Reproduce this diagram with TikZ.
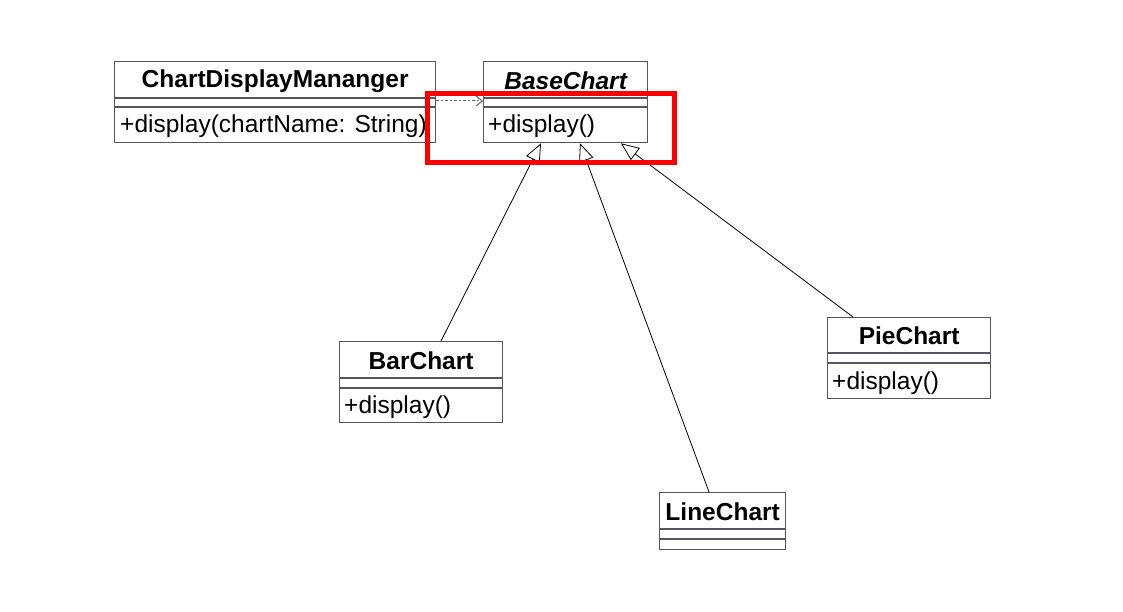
\documentclass[tikz,border=0pt]{standalone}
\usepackage{fontspec}
\setmainfont{Liberation Sans}
\usetikzlibrary{calc,arrows.meta}
\definecolor{boxc}{RGB}{85,85,95}
\definecolor{hl}{RGB}{250,0,0}
\tikzset{
  umlbox/.style={draw=boxc, line width=1.3pt, fill=white, rectangle, inner sep=0pt, anchor=north west},
  sepline/.style={draw=boxc, line width=1.3pt},
  ctitle/.style={font=\fontsize{24.5}{28}\selectfont\bfseries, inner sep=0pt},
  cmeth/.style={font=\fontsize{24.5}{28}\selectfont, inner sep=0pt, anchor=west},
  inh/.style={draw=black, line width=0.8pt, -{Triangle[open, length=18pt, width=15pt, fill=white]}},
  dep/.style={draw=gray!80!black, line width=1pt, dash pattern=on 2.5pt off 2pt, -{Straight Barb[length=6pt, width=10pt]}},
}
\begin{document}
\begin{tikzpicture}[x=1pt, y=-1pt]
\useasboundingbox (0,0) rectangle (1123,612);
\fill[white] (0,0) rectangle (1123,612);

% ChartDisplayMananger
\node[umlbox, minimum width=321pt, minimum height=81pt] (cdm) at (114,61) {};
\draw[sepline] ($(cdm.north west)+(0,37)$) -- ($(cdm.north east)+(0,37)$);
\draw[sepline] ($(cdm.north west)+(0,46)$) -- ($(cdm.north east)+(0,46)$);
\node[ctitle] (cdmT) at ($(cdm.north)+(0,20)$) {ChartDisplayMananger};
\node[cmeth] (cdmM) at ($(cdm.north west)+(6,65)$) {+display(chartName: String)};

% BaseChart
\node[umlbox, minimum width=164pt, minimum height=81pt] (base) at (483,61) {};
\draw[sepline] ($(base.north west)+(0,37)$) -- ($(base.north east)+(0,37)$);
\draw[sepline] ($(base.north west)+(0,46)$) -- ($(base.north east)+(0,46)$);
\node[ctitle, font=\fontsize{24.5}{28}\selectfont\bfseries\itshape] (baseT) at ($(base.north)+(0,20)$) {BaseChart};
\node[cmeth] (baseM) at ($(base.north west)+(5,65)$) {+display()};

% BarChart
\node[umlbox, minimum width=163pt, minimum height=81pt] (bar) at (339,341) {};
\draw[sepline] ($(bar.north west)+(0,37)$) -- ($(bar.north east)+(0,37)$);
\draw[sepline] ($(bar.north west)+(0,47)$) -- ($(bar.north east)+(0,47)$);
\node[ctitle] (barT) at ($(bar.north)+(0,20)$) {BarChart};
\node[cmeth] (barM) at ($(bar.north west)+(5,66)$) {+display()};

% PieChart
\node[umlbox, minimum width=163pt, minimum height=81pt] (pie) at (827,317) {};
\draw[sepline] ($(pie.north west)+(0,36)$) -- ($(pie.north east)+(0,36)$);
\draw[sepline] ($(pie.north west)+(0,46)$) -- ($(pie.north east)+(0,46)$);
\node[ctitle] (pieT) at ($(pie.north)+(0,19)$) {PieChart};
\node[cmeth] (pieM) at ($(pie.north west)+(5,66)$) {+display()};

% LineChart
\node[umlbox, minimum width=126pt, minimum height=57pt] (line) at (659,492) {};
\draw[sepline] ($(line.north west)+(0,37)$) -- ($(line.north east)+(0,37)$);
\draw[sepline] ($(line.north west)+(0,47)$) -- ($(line.north east)+(0,47)$);
\node[ctitle] (lineT) at ($(line.north)+(0,20)$) {LineChart};

% connector end points
\coordinate (depS) at ($(cdm.north east)+(0,40)$);
\coordinate (depE) at ($(base.north west)+(0,40)$);
\coordinate (tipBar) at ($(base.south west)+(58,0)$);
\coordinate (tipLine) at ($(base.south west)+(97,0)$);
\coordinate (tipPie) at ($(base.south west)+(138,0)$);
\coordinate (barTop) at ($(bar.north west)+(102,0)$);
\coordinate (lineTop) at ($(line.north west)+(50,0)$);
\coordinate (pieTop) at ($(pie.north west)+(26,0)$);

\draw[dep] (depS) -- (depE);
\draw[inh] (barTop) -- (tipBar);
\draw[inh] (lineTop) -- (tipLine);
\draw[inh] (pieTop) -- (tipPie);

% highlight
\node[draw=hl, line width=5pt, rectangle, inner sep=0pt, minimum width=247pt, minimum height=69pt, anchor=north west] (hlbox) at (425,91.5) {};
\end{tikzpicture}
\end{document}
